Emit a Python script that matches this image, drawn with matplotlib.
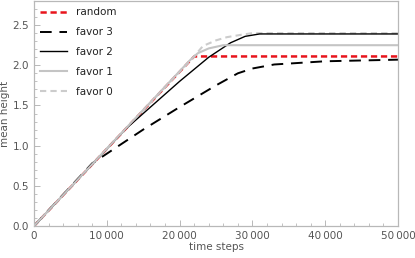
import matplotlib
matplotlib.use('Agg')
import matplotlib.pyplot as plt
from matplotlib.ticker import MultipleLocator, FuncFormatter

# (time step, mean height)
t_random = [0, 22000, 50000]
h_random = [0, 2.11, 2.11]

t_fav3 = [0, 8000, 10000, 15000, 20000, 25000, 28000, 30000, 33000, 40000, 50000]
h_fav3 = [0, 0.78, 0.90, 1.20, 1.48, 1.75, 1.90, 1.96, 2.01, 2.05, 2.07]

t_fav2 = [0, 12500, 20000, 24000, 27000, 29000, 31000, 50000]
h_fav2 = [0, 1.20, 1.80, 2.10, 2.28, 2.36, 2.39, 2.39]

t_fav1 = [0, 21500, 22500, 24000, 26000, 50000]
h_fav1 = [0, 2.07, 2.15, 2.21, 2.25, 2.25]

t_fav0 = [0, 22000, 23200, 25000, 26500, 28500, 30000, 50000]
h_fav0 = [0, 2.11, 2.24, 2.31, 2.35, 2.38, 2.40, 2.40]

fig = plt.figure(figsize=(4.15, 2.58), dpi=100)
ax = fig.add_axes([34/415, 32/258, 364/415, 225/258])

ax.plot(t_random, h_random, color='#e8141c', lw=1.8, dashes=(2.5, 1.5), label='random', zorder=1)
ax.plot(t_fav3, h_fav3, color='black', lw=1.4, dashes=(6, 4), label='favor 3', zorder=2)
ax.plot(t_fav2, h_fav2, color='black', lw=1.0, label='favor 2', zorder=2.2)
ax.plot(t_fav1, h_fav1, color='#c4c4c4', lw=1.5, label='favor 1', zorder=4)
ax.plot(t_fav0, h_fav0, color='#cccccc', lw=1.5, dashes=(3, 2), label='favor 0', zorder=1.5)

ax.set_xlim(0, 50000)
ax.set_ylim(0, 2.8)
ax.xaxis.set_major_locator(MultipleLocator(10000))
ax.xaxis.set_minor_locator(MultipleLocator(2000))
ax.yaxis.set_major_locator(MultipleLocator(0.5))
ax.yaxis.set_minor_locator(MultipleLocator(0.1))
ax.xaxis.set_major_formatter(FuncFormatter(
    lambda v, p: '0' if v == 0 else f'{int(v):,}'.replace(',', '\u2009')))
ax.yaxis.set_major_formatter(FuncFormatter(lambda v, p: f'{v:.1f}'))

for s in ax.spines.values():
    s.set_color('#b8b8b8')
    s.set_linewidth(0.9)
ax.tick_params(which='both', direction='in', colors='#b8b8b8', labelcolor='#555555', labelsize=7.5)
ax.tick_params(which='major', length=4, width=0.7)
ax.tick_params(which='minor', length=2.5, width=0.6)

ax.set_xlabel('time steps', fontsize=7.5, color='#555555', labelpad=1)
ax.set_ylabel('mean height', fontsize=7.5, color='#555555', labelpad=2)

leg = ax.legend(loc='upper left', frameon=False, fontsize=7.5, handlelength=2.6,
                labelspacing=0.95, borderaxespad=0.2, handletextpad=0.8)
for txt in leg.get_texts():
    txt.set_color('#222222')

fig.savefig('out.png', dpi=100)
